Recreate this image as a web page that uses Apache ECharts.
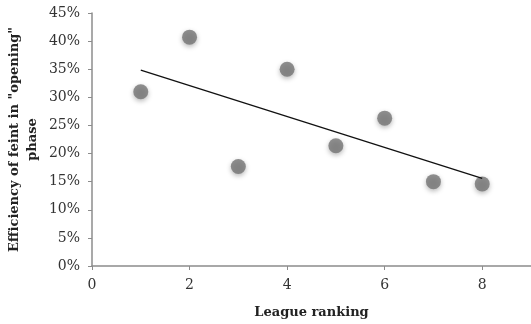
<!DOCTYPE html>
<html>
<head>
<meta charset="utf-8">
<script src="https://cdn.jsdelivr.net/npm/echarts@6/dist/echarts.min.js"></script>
<style>html,body{margin:0;padding:0;background:#fff}#c{width:531px;height:324px}</style>
</head>
<body>
<div id="c"></div>
<script>
var rankings = [1, 2, 3, 4, 5, 6, 7, 8];
var efficiency = [0.310, 0.407, 0.177, 0.350, 0.214, 0.263, 0.150, 0.146];
var yTickLabels = ['0%','5%','10%','15%','20%','25%','30%','35%','40%','45%'];
var xTitle = 'League ranking';
var yTitle = 'Efficiency of feint in "opening"\nphase';

// linear trendline (least squares) from the data
var n = rankings.length, mx = 0, my = 0;
for (var i = 0; i < n; i++) { mx += rankings[i]; my += efficiency[i]; }
mx /= n; my /= n;
var sxy = 0, sxx = 0;
for (var i = 0; i < n; i++) { sxy += (rankings[i]-mx)*(efficiency[i]-my); sxx += (rankings[i]-mx)*(rankings[i]-mx); }
var slope = sxy/sxx, icpt = my - slope*mx;
var xmin = Math.min.apply(null, rankings), xmax = Math.max.apply(null, rankings);
var trend = [[xmin, icpt + slope*xmin], [xmax, icpt + slope*xmax]];

var font = '"DejaVu Serif", "Liberation Serif", serif';
var chart = echarts.init(document.getElementById('c'), null, {renderer: 'canvas'});
chart.setOption({
  animation: false,
  backgroundColor: '#fff',
  grid: {left: 92, right: 0, top: 13, bottom: 58, containLabel: false, outerBoundsMode: 'none'},
  xAxis: {
    type: 'value', min: 0, max: 9, interval: 2,
    axisLine: {show: true, lineStyle: {color: '#8c8c8c', width: 1.5}},
    axisTick: {show: true, length: 4, lineStyle: {color: '#8c8c8c'}},
    splitLine: {show: false},
    axisLabel: {color: '#333', fontFamily: font, fontSize: 14, margin: 12,
      formatter: function(v){ return v > 8 ? '' : String(v); }},
    name: xTitle, nameLocation: 'middle', nameGap: 40, nameMoveOverlap: false,
    nameTextStyle: {color: '#222', fontFamily: font, fontSize: 13, fontWeight: 'bold'}
  },
  yAxis: {
    type: 'value', min: 0, max: 0.45, interval: 0.05,
    axisLine: {show: true, lineStyle: {color: '#8c8c8c', width: 1.5}},
    axisTick: {show: true, length: 4, lineStyle: {color: '#8c8c8c'}},
    splitLine: {show: false},
    axisLabel: {color: '#333', fontFamily: font, fontSize: 14, margin: 12,
      formatter: function(v){ return yTickLabels[Math.round(v/0.05)]; }},
    name: yTitle, nameLocation: 'middle', nameRotate: 90, nameGap: 50, nameMoveOverlap: false,
    nameTextStyle: {color: '#222', fontFamily: font, fontSize: 13, fontWeight: 'bold', lineHeight: 18, align: 'center'}
  },
  series: [
    {
      type: 'scatter', data: rankings.map(function(x, i){ return [x, efficiency[i]]; }),
      symbolSize: 15,
      itemStyle: {color: '#747474', shadowBlur: 5, shadowColor: 'rgba(0,0,0,0.35)', shadowOffsetY: 2},
      z: 3
    },
    {
      type: 'line', data: trend, symbol: 'none',
      lineStyle: {color: '#111', width: 1.3}, z: 4
    }
  ]
});
</script>
</body>
</html>
